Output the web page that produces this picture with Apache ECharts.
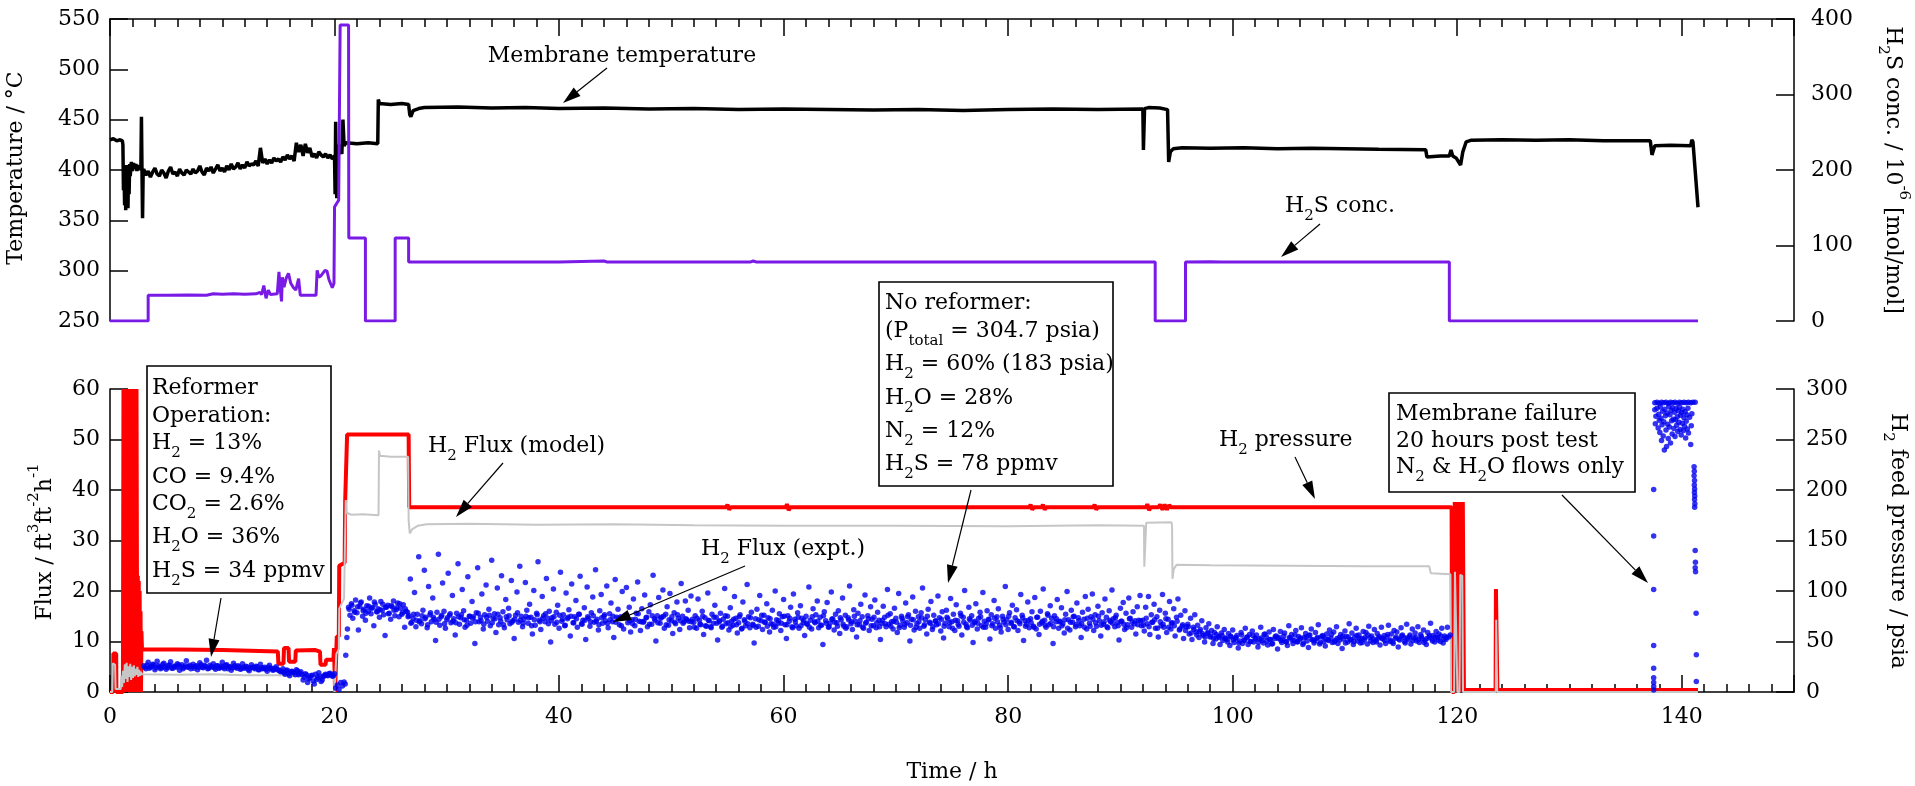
<!DOCTYPE html>
<html><head><meta charset="utf-8">
<script src="https://cdn.jsdelivr.net/npm/echarts@6/dist/echarts.min.js"></script>
<style>html,body{margin:0;padding:0;background:#fff}#c{width:1915px;height:786px}</style>
</head><body><div id="c"></div>
<script>
// ---------------- DATA ----------------
const xTicks = [0, 20, 40, 60, 80, 100, 120, 140];

// Membrane temperature (°C) [t(h), T]
const tempHead = [[0,430],[0.3,431],[0.6,429],[0.9,430],[1.1,429],[1.15,425],[1.2,380],[1.25,402],[1.3,365],[1.35,396],[1.4,360],[1.45,405],[1.5,372],[1.55,399],[1.6,362],[1.65,401],[1.7,376],[1.75,406],[1.8,394],[1.9,408],[2.0,399],[2.1,407],[2.2,401],[2.3,406],[2.4,399],[2.5,405],[2.6,400],[2.7,404],[2.75,401],[2.8,453],[2.85,399],[2.9,352],[2.95,396]];
// 3.0 h .. 20.0 h every 0.2 h
const tempNoisyStart = 3.0, tempNoisyStep = 0.2;
const tempNoisy = [401,395,399,393,398,402,396,394,400,397,392,399,403,396,398,394,401,397,395,400,398,
 396,401,397,399,404,398,395,402,399,403,397,401,405,399,402,398,404,400,406,401,
 403,407,401,405,402,408,404,406,405,409,404,422,407,411,406,410,407,412,409,411,
 408,413,410,415,411,414,409,427,418,425,
 414,426,417,422,413,416,412,418,415,413,
 416,412,415,411,414];
const tempTail = [[20.05,376],[20.1,448],[20.15,392],[20.2,372],[20.25,410],[20.35,425],[20.5,421],[20.65,416],[20.75,450],[20.85,424],[21.0,427],[22.0,426],[23.0,427],[23.85,426],[23.9,470],[24.0,466],[25.0,465],[26.0,466],[26.6,465],[26.7,455],[26.8,453],[27.0,459],[27.5,461],[28,462],[31,462.5],[34,461.5],[37,462],[40,461],[44,461.5],[48,460.5],[52,461],[56,460],[60,460.5],[64,460],[68,459.5],[72,460],[76,459],[80,460],[84,460.5],[88,460],[92.0,460.5],[92.05,420],[92.15,461],[92.5,462],[93.5,461.5],[94.2,460],[94.3,408],[94.45,418],[94.7,421],[95.5,422],[98,421.5],[101,422],[104,421],[107,421.5],[110,421],[113,420.5],[117.2,420],[117.3,413],[118.5,414],[119.3,414],[119.45,420],[119.6,414],[119.9,412],[120.3,405],[120.5,418],[120.8,428],[121.2,429.5],[124,430],[127,429.5],[130,430],[133,429],[137.2,429],[137.35,415],[137.6,424],[139,424.5],[140.8,424],[140.9,430],[141.0,428],[141.45,363]];

// H2S concentration (10^-6 mol/mol) [t, ppm]
const h2sConc = [[0,0],[3.4,0],[3.4,34],[5,34],[7,34.5],[8.6,34],[9.2,36],[10,35.5],[11,36],[12,35.5],[13.0,36],[13.35,38],[13.5,35],[13.7,47],[13.9,30],[14.1,41],[14.3,35],[14.9,36],[15.05,65],[15.15,45],[15.28,26],[15.35,58],[15.5,45],[15.7,57],[15.9,63],[16.1,50],[16.35,44],[16.55,41],[16.8,56],[16.95,34],[18.35,34],[18.45,67],[18.6,58],[18.8,60],[18.97,58],[19.15,67],[19.33,66],[19.5,55],[19.8,44],[19.95,50],[20.0,151],[20.2,156],[20.37,160],[20.5,392],[21.25,392],[21.27,110],[22.75,110],[22.75,0],[25.4,0],[25.4,110],[26.6,110],[26.6,78],[40,78],[44,79.5],[44.3,78],[57,78],[57.3,79.5],[57.6,78],[93.1,78],[93.1,0],[95.8,0],[95.8,78],[98,78.5],[99,78],[110,78],[119.3,78],[119.3,0],[141.45,0]];

// H2 feed pressure (psia) [t, p]
const h2Pressure = [[0,0],[0.28,0],[0.3,38],[0.55,38],[0.57,0],[1.15,0],[1.2,300],[1.24,0],[1.28,300],[1.32,15],[1.36,300],[1.4,0],[1.44,300],[1.48,20],[1.52,300],[1.56,0],[1.6,300],[1.64,10],[1.68,300],[1.72,0],[1.76,300],[1.8,125],[1.84,0],[1.88,125],[1.92,10],[1.96,300],[2.0,0],[2.04,300],[2.08,15],[2.12,300],[2.16,0],[2.2,300],[2.24,20],[2.28,300],[2.32,0],[2.36,300],[2.4,120],[2.44,0],[2.48,115],[2.52,5],[2.56,110],[2.6,0],[2.64,100],[2.68,10],[2.72,80],[2.76,0],[2.8,60],[2.85,42],[6,42],[10,41.5],[14.95,40],[15.0,28],[15.45,28],[15.5,43.5],[15.9,43.5],[15.95,30],[16.5,30],[16.55,41],[18.3,41.5],[18.35,40],[18.7,40],[18.75,27],[19.2,27],[19.25,32],[19.9,32],[19.95,43.5],[20.02,43.5],[20.05,0],[20.15,0],[20.2,55],[20.38,55],[20.42,125],[20.9,128],[20.95,190],[21.07,190],[21.12,255],[24,255],[26.6,255],[26.65,183],[54.9,183],[55.0,185.5],[55.15,180.5],[55.3,183],[60.2,183],[60.3,186],[60.45,180],[60.6,183],[81.9,183],[82.0,185.5],[82.15,180.5],[82.3,183],[83,183],[83.1,185.5],[83.25,180.5],[83.4,183],[87.6,183],[87.7,185.5],[87.85,180.5],[88.0,183],[92.3,183],[92.4,186],[92.55,180],[92.7,183],[93.4,183],[93.55,185.5],[93.75,180.5],[93.95,185.5],[94.15,180.5],[94.35,185],[94.5,183],[119.5,183],[119.55,0],[119.75,0],[119.78,188],[119.84,0],[119.9,188],[119.96,0],[120.02,188],[120.08,0],[120.14,188],[120.2,0],[120.26,188],[120.32,0],[120.38,188],[120.44,0],[120.5,188],[120.56,188],[120.6,2],[123.42,2],[123.45,102],[123.55,102],[123.58,2],[141.45,2]];

// H2 flux (model) ft3 ft-2 h-1 [t, flux]
const fluxModel = [[0,0],[0.2,0],[0.25,5.7],[0.45,5.4],[0.5,0.6],[0.95,0.6],[1.0,3.2],[1.08,1.0],[1.16,4.2],[1.24,1.8],[1.32,5.5],[1.4,2.6],[1.48,5.8],[1.56,2.0],[1.64,5.1],[1.72,3.0],[1.8,5.6],[1.88,2.4],[1.96,5.0],[2.04,2.8],[2.12,5.3],[2.2,3.1],[2.28,4.6],[2.36,3.4],[2.44,5.0],[2.52,3.0],[2.6,4.4],[2.68,3.2],[2.76,4.0],[2.84,3.5],[3.0,3.5],[6,3.4],[9,3.5],[12,3.3],[15,3.3],[17,3.1],[19,3.0],[19.95,3.0],[20.0,0],[20.12,0],[20.16,7.5],[20.38,8.5],[20.42,16.5],[20.85,18.5],[20.92,28],[21.0,38],[21.08,35.5],[21.5,35.1],[22.5,35.2],[23.92,35.0],[23.96,47.8],[24.05,46.8],[25,46.6],[26.55,46.6],[26.6,34],[26.7,31.4],[26.9,32.2],[27.4,32.9],[28.2,33.2],[32,33.3],[38,33.1],[45,33.2],[52,33.0],[60,32.9],[70,32.9],[80,32.8],[88,33.0],[92.1,32.9],[92.13,24.8],[92.28,24.8],[92.3,33.5],[94.55,33.6],[94.6,33.0],[94.64,22.4],[94.75,24.3],[95.0,25.2],[98,25.1],[105,25.0],[112,24.9],[117.5,24.9],[117.65,23.5],[119.4,23.3],[119.45,0],[119.72,0],[119.8,23.8],[119.95,24],[120.02,0],[120.2,0],[120.27,23.2],[120.45,23.0],[120.52,0],[123.44,0],[123.47,14.3],[123.53,14.3],[123.56,0],[141.45,0]];

// H2 flux (expt.) — reformer period, 3.0 h .. 20.0 h every 0.2 h
const exptEarlyStart = 3.0, exptEarlyStep = 0.2;
const exptEarly = [5.2,4.6,5.9,4.9,5.5,4.4,6.1,5.0,4.8,5.7,4.5,5.3,6.0,4.7,5.1,5.6,4.3,5.4,4.9,6.2,5.0,
 4.6,5.5,5.1,4.4,5.8,4.9,5.3,6.3,4.7,5.0,5.6,4.5,5.2,4.8,5.9,4.6,5.4,5.0,4.3,5.7,
 4.9,5.2,4.5,5.6,4.7,5.0,4.2,5.4,4.8,5.1,4.4,5.5,4.6,4.9,4.1,5.3,4.7,4.4,5.0,4.3,
 4.0,4.6,3.5,4.3,3.2,4.1,3.8,4.4,3.4,4.0,
 2.4,3.6,1.9,2.8,3.3,1.6,2.5,3.8,2.1,3.0,
 3.5,3.2,3.7,3.1,3.6];
// second reading channel, 3.1 h .. 19.9 h every 0.2 h
const exptEarly2Start = 3.1, exptEarly2Step = 0.2;
const exptEarly2 = [4.9,5.3,4.7,5.1,5.4,4.8,5.2,4.6,5.5,5.0,4.8,5.3,4.7,5.1,4.9,5.4,5.0,4.6,5.2,4.9,5.3,
 5.0,4.7,5.2,4.9,5.4,4.8,5.1,4.6,5.3,5.0,4.8,5.2,4.7,5.1,4.9,5.3,4.6,5.0,4.8,5.2,
 4.7,5.0,4.6,4.9,5.1,4.5,4.8,4.9,4.6,5.0,4.4,4.8,4.7,4.5,4.9,4.6,4.3,4.7,4.5,4.2,
 4.1,3.8,4.3,3.6,4.0,3.9,3.4,4.2,3.7,3.5,
 2.9,3.4,2.6,3.2,2.2,3.5,2.8,3.1,2.4,3.3,
 3.3,3.6,3.4,3.2];
const exptTransition = [[20.1,0.8],[20.25,1.4],[20.4,0.5],[20.55,1.9],[20.7,1.2],[20.85,2.0],[20.95,1.6],[21.0,7.3],[21.1,10.8],[21.15,12.5]];
// no-reformer period, from 21.25 h every 0.125 h
const exptStart = 21.25, exptStep = 0.125;
const exptSegA = [16.8,15.2,17.5,14.6,16.1,18.2,15.7,12.3,16.9,17.8,15.0,16.4,14.2,17.1,16.0,18.6,15.5,16.7,13.1,17.4,15.9,16.5,14.8,17.9,16.2,15.3,11.2,16.8,17.2,15.6,14.4,16.9,18.0,15.1,16.3,17.6,14.9,16.6,15.4,17.3,12.8,16.0,15.8];
const exptSegB = [15.1,22.4,13.8,14.6,19.7,12.9,15.4,26.8,14.1,13.5,
 16.2,24.1,14.8,12.7,20.9,15.3,13.9,18.6,14.4,10.2,
 15.8,27.3,13.2,14.9,21.6,16.0,12.6,14.3,23.5,15.2,
 13.7,19.1,14.5,11.3,15.6,25.4,13.4,14.7,20.3,16.1,
 12.8,14.2,22.8,15.0,13.6,17.9,14.9,9.6,15.7,24.6,
 13.9,14.8,19.4,12.5,15.3,21.2,14.0,16.4,13.1,26.1,
 14.6,15.5,11.8,20.6,13.3,14.7,23.0,15.9,12.7,18.3,
 14.3,16.6,13.5,22.1,14.1,10.6,15.2,19.8,13.8,24.9,
 15.0,12.9,14.4,21.7,16.2,13.6,17.4,14.8,11.5,20.1,
 13.2,15.6,25.8,14.2,12.4,18.9,15.1,13.9,22.5,14.6,
 16.0,9.9,14.7,20.4,13.4,15.8,17.2,12.6,23.7,14.0,
 15.3,13.1,19.6,14.5,16.3,11.1,21.4,13.7,14.9,18.1,
 12.8,15.4,22.9,13.5,14.2,16.7,10.4,20.8,14.6,13.0,
 15.7,18.8,13.8,24.2,14.4,12.3,16.1,19.3,13.6,15.0,
 14.1,21.0,12.7,15.5,17.6,13.9,10.8,22.3,14.8,16.4,
 13.3,14.9,19.9,12.5,15.2,20.7,13.7,16.8,11.9,14.3,
 18.4,13.1,15.6,21.8,14.0,12.2,16.5,13.8,19.2,14.7,
 12.9,15.9,17.3,13.4,23.1,14.5,10.1,15.1,18.7,13.6,
 14.8,20.2,12.6,15.4,16.9,13.2,19.5,14.1,11.6,15.7,
 13.5,17.8,14.6,12.4,21.5,15.0,13.9,18.0,14.3,16.2,
 12.7,19.0,14.4];
const exptSegC = [13.8,15.1,12.6,18.4,14.2,13.3,16.0,11.4,14.7,13.0,
 19.6,14.1,12.9,15.4,13.6,17.2,14.8,10.3,13.9,15.6,
 12.8,14.4,20.5,13.5,15.0,12.3,16.7,14.0,13.2,18.9,
 14.6,11.7,13.7,15.3,12.5,17.8,14.3,13.1,21.3,14.9,
 12.7,15.8,13.4,9.7,14.5,16.4,13.0,19.1,14.1,12.4,
 15.2,13.8,17.5,14.7,11.9,13.5,16.2,12.8,20.0,14.3,
 13.6,15.5,12.2,14.9,18.3,13.3,10.6,15.1,14.0,16.8,
 12.9,19.4,14.4,13.1,15.7,12.6,17.1,14.6,13.7,11.2,
 15.0,13.4,20.8,14.2,12.5,16.5,13.9,15.3,18.0,12.7,
 14.8,13.2,9.4,15.9,14.1,17.7,12.8,13.6,19.8,14.5,
 12.3,15.4,13.7,16.1,11.6,14.3,18.6,13.0,15.2,12.9,
 14.7,21.0,13.5,12.4,16.3,14.0,10.9,15.6,13.3,17.4,
 14.9,12.6,19.2,13.8,15.1,12.2,16.9,14.4,13.1,18.2,
 12.7,15.8,14.2,10.4,13.6,17.0,14.8,12.9,20.3,13.4,
 15.5,13.9,12.5,16.6,14.6,11.8,19.5,13.2,15.0,14.1,
 12.8,17.6,13.7,15.3,10.1,14.4,18.8,12.3,16.0,13.5,
 14.9,12.6,15.7,20.6,13.0,14.3,11.5,16.4,13.8,17.9,
 12.4,15.2,14.0,13.3,19.0,14.7,12.1,15.9,10.7,13.6,
 16.2,14.5,12.9,18.5,13.9,15.4,12.2,17.3,14.1,13.0,
 15.6,11.3,14.8,20.1,13.4,12.7,16.8,14.2,15.1,9.8,
 13.7,17.5,12.5,14.6,15.8,13.1,19.7,14.0,12.8,16.1,
 14.4,10.5,15.3,13.5,18.1,12.6,14.9,16.5,13.2,11.9,
 15.0,13.8,20.9,14.3,12.4,15.7,13.6,17.2,12.9,14.7,
 16.3,12.2,13.9,19.3,15.2,10.2,14.1,13.4,17.8,12.7,
 14.5,15.9,13.0,18.7,12.5,14.8,11.4,16.0,13.7,20.4,
 14.2,12.8,15.5,13.3,17.1,14.6,9.6,15.1,13.9,18.3,
 12.6,14.0,16.7,13.5,11.7,15.4,19.9,14.3,12.3,16.2,
 13.8,15.0,12.9,17.6,14.7,13.1,10.8,15.8,14.4,18.9,
 12.5,16.4,13.6,14.9,19.4,12.2,15.3,13.0,17.0,14.1,
 11.1,15.7,13.4,18.4,14.8,12.7,16.1,13.9,20.2,14.5,
 12.9,15.2,13.7,10.3,16.6,14.0,17.7,12.4,15.6,13.3,
 18.6,14.6,12.8,15.9,13.5,11.5,16.9,14.2,19.1,13.1];
const exptSegD = [14.2,12.1,16.8,13.5,18.9,11.4,15.3,13.8,17.4,12.6,14.9,10.9,16.2,13.1,19.3,12.8,
 15.6,11.8,14.4,17.9,12.5,13.7,16.5,11.1,14.8,18.4,12.3,15.2,13.0,10.6,16.1,12.9,
 13.4,11.5,14.6,10.4,12.8,15.3,11.9,13.2,10.8,12.4,14.1,11.2,9.9,12.7,11.6,13.5,
 10.9,12.2,9.6,11.8,10.5,12.9,11.0,9.4,11.7,10.2,12.4,10.7];
const exptSegE = [10.4,11.6,9.2,10.9,12.3,9.8,10.6,11.2,8.7,10.1,
 11.8,9.6,10.3,12.6,10.8,9.4,11.4,10.0,12.1,9.9,
 10.7,11.3,8.9,10.5,12.8,10.2,9.7,11.5,10.9,9.3,
 11.9,10.4,9.5,12.4,10.6,11.1,8.5,10.8,12.0,9.8,
 10.3,11.7,10.0,9.2,13.1,10.7,11.4,9.6,10.2,12.2,
 9.9,11.0,10.5,12.7,9.4,10.8,11.6,10.1,8.8,11.3,
 12.5,10.3,9.7,11.8,10.6,13.3,9.5,10.9,11.2,10.0,
 9.1,11.5,10.4,12.3,10.7,9.8,11.9,10.2,12.9,9.6,
 10.8,11.4,8.6,10.5,12.1,11.0,9.9,13.5,10.3,11.7,
 9.4,10.9,12.6,10.1,11.3,9.7,10.6,12.0,10.4,11.8,
 9.5,13.0,10.8,11.1,9.8,12.4,10.2,11.6,10.7,9.3,
 12.8,10.5,11.2,9.6,10.9,13.2,10.0,11.5,9.9,12.2,
 10.6,11.9,8.9,10.3,12.7,11.3,10.8,9.7,13.4,10.4,
 11.0,9.5,12.5,10.7,11.7,10.1,12.9,9.8,11.4,10.6,
 12.3,10.2,9.4,11.8,10.9,13.6,10.5,11.2,9.9,12.0,
 10.8,11.5,10.0,12.6,9.7,11.1,10.4,12.8,10.9,11.3];
// second reading channel, from 21.3 h every 0.25 h
const exptCoreStart = 21.3, exptCoreStep = 0.25;
const exptCoreA = [16.4,17.2,15.8,16.9,17.6,16.1,15.6,17.0,16.6,17.8,15.9,16.3,17.4,16.8,15.5,17.1,16.2,16.7,17.5,15.7,16.5];
const exptCoreB = [14.9,13.6,15.4,14.2,13.9,15.1,14.5,13.3,15.7,14.8,
 13.8,14.4,15.2,13.5,14.7,15.5,14.0,13.7,14.9,15.3,
 14.3,13.2,15.0,14.6,13.9,15.6,14.1,13.4,14.8,15.2,
 13.7,14.5,15.4,14.0,13.3,14.9,15.1,13.8,14.4,15.7,
 14.2,13.6,15.0,14.7,13.1,14.3,15.3,13.9,14.6,15.5,
 13.5,14.1,14.9,13.8,15.2,14.4,13.2,14.8,15.0,13.7,
 14.5,15.4,13.4,14.2,14.9,13.9,15.1,14.0,13.3,14.7,
 15.3,13.6,14.3,15.0,13.8,14.6,13.1,14.9,15.2,14.1,
 13.5,14.4,15.5,13.9,14.0,14.8,13.4,15.1,14.2,13.7,
 14.6,15.0,13.3,14.3,14.9,13.8,15.3,14.1,13.6,14.5,
 14.0];
const exptCoreC = [13.9,12.8,14.6,13.4,15.0,13.1,14.2,12.7,14.8,13.6,
 14.1,13.0,15.1,13.7,12.9,14.4,13.3,14.9,12.6,14.0,
 13.5,14.7,13.2,12.8,14.3,15.2,13.8,13.0,14.5,13.4,
 12.9,14.1,13.6,15.0,13.3,14.6,12.7,13.9,14.8,13.1,
 14.2,13.5,12.8,14.9,13.7,14.0,13.2,15.1,13.6,12.9,
 14.4,13.8,13.0,14.7,13.4,12.6,14.3,13.9,15.0,13.3,
 14.1,12.8,13.6,14.5,13.1,14.8,13.7,12.9,14.2,13.5,
 15.2,13.0,14.0,13.8,12.7,14.6,13.4,14.9,13.2,14.3,
 12.8,13.9,14.7,13.3,15.0,13.6,12.9,14.1,13.5,14.4,
 13.0,14.8,13.7,12.6,14.2,13.4,15.1,13.8,12.9,14.5,
 13.2,14.0,13.6,14.9,12.8,13.5,14.3,13.1,14.6,13.9,
 12.7,14.4,13.3,15.0,13.8,12.9,14.1,13.5,14.7,13.0,
 14.2,13.7,12.8,14.8,13.4,14.0,13.2,15.2,13.6,12.9,
 14.5,13.9,13.1,14.3,12.6,13.8,14.9,13.3,14.1,13.5,
 12.8,14.6,13.0,14.4,13.7,15.0,13.2,13.9,12.9,14.2,
 13.6,14.7,13.1,14.0,13.4,12.7,14.5,13.8,14.1,13.3];
const exptCoreD = [14.1,13.2,14.6,12.9,13.8,14.3,12.6,13.9,13.4,14.5,
 12.8,13.6,13.1,14.0,12.5,13.3,12.2,12.9,11.7,12.4,
 11.3,12.0,11.6,10.9,11.8,11.1,10.6,11.4,10.8,11.2];
const exptCoreE = [10.6,9.9,11.1,10.3,10.8,9.7,11.3,10.2,10.9,10.0,
 11.2,10.5,9.8,10.7,11.4,10.1,10.4,9.6,11.0,10.6,
 10.2,11.1,9.9,10.8,10.3,11.3,10.0,10.7,9.7,10.9,
 11.2,10.4,10.1,10.8,9.8,11.0,10.5,10.2,11.4,9.9,
 10.6,10.3,11.1,9.7,10.9,10.4,10.0,11.2,10.6,9.8,
 10.8,11.3,10.1,10.5,9.9,11.0,10.7,10.2,11.4,10.3,
 9.6,10.9,10.5,11.1,10.0,10.7,11.3,10.2,10.8,10.4,
 11.0,9.8,10.6,11.2,10.1,10.9,10.3,11.1,10.5,10.8];
// post-test (membrane failure) readings [t, flux]
const exptPostTest = [[137.5,0.4],[137.5,1.1],[137.5,1.9],[137.5,2.8],[137.5,4.7],[137.5,9.2],[137.5,20.3],[137.5,30.9],[137.5,40.1],
 [137.6,57.3],[137.8,57.4],[138.0,57.2],[138.2,57.4],[138.4,57.3],[138.6,57.4],[138.8,57.2],[139.0,57.4],[139.2,57.3],[139.4,57.4],[139.6,57.2],[139.8,57.4],[140.0,57.3],[140.2,57.4],[140.4,57.3],[140.6,57.4],[140.8,57.3],[141.0,57.4],[141.2,57.4],
 [137.6,55.9],[137.7,54.6],[137.65,53.1],[137.8,56.2],[137.9,52.3],[137.95,55.0],[138.0,53.8],[138.05,51.4],[138.1,56.5],[138.15,54.2],[138.2,49.8],[138.25,52.9],[138.3,55.6],[138.35,50.7],[138.4,53.5],[138.45,47.9],[138.5,56.0],[138.55,54.7],[138.6,51.9],[138.65,48.6],[138.7,55.2],[138.75,53.0],[138.8,50.2],[138.85,56.6],[138.9,52.5],[138.95,54.9],[139.0,49.3],[139.05,55.8],[139.1,53.7],[139.15,51.1],[139.2,56.3],[139.25,54.0],[139.3,52.2],[139.35,55.4],[139.4,50.6],[139.45,53.9],[139.5,56.1],[139.55,52.8],[139.6,54.5],[139.65,51.6],[139.7,55.7],[139.75,53.4],[139.8,56.4],[139.85,52.0],[139.9,54.8],[139.95,50.9],[140.0,55.3],[140.05,53.2],[140.1,56.0],[140.15,51.8],[140.2,54.3],[140.25,52.6],[140.3,55.5],[140.35,50.3],[140.4,53.6],[140.45,54.9],[140.5,52.1],[140.55,56.2],[140.6,51.3],[140.7,54.4],[140.8,49.0],[140.85,52.7],[140.9,55.1],
 [141.1,44.6],[141.12,43.7],[141.1,42.8],[141.14,41.9],[141.12,41.0],[141.15,40.2],[141.13,39.5],[141.16,38.8],[141.14,38.1],[141.17,37.3],[141.15,36.6],[141.2,28.0],[141.22,25.7],[141.2,24.6],[141.23,23.8],[141.28,15.6],[141.3,7.4],[141.3,2.1]];

// ---------------- BUILD SERIES DATA ----------------
function sampled(values, start, step, out) {
  values.forEach((v, i) => out.push([+(start + i * step).toFixed(3), v]));
}
const tempData = tempHead.slice();
sampled(tempNoisy, tempNoisyStart, tempNoisyStep, tempData);
tempTail.forEach(p => tempData.push(p));

const exptData = [];
sampled(exptEarly, exptEarlyStart, exptEarlyStep, exptData);
sampled(exptEarly2, exptEarly2Start, exptEarly2Step, exptData);
exptTransition.forEach(p => exptData.push(p));
sampled([].concat(exptSegA, exptSegB, exptSegC, exptSegD, exptSegE), exptStart, exptStep, exptData);
sampled([].concat(exptCoreA, exptCoreB, exptCoreC, exptCoreD, exptCoreE), exptCoreStart, exptCoreStep, exptData);
exptPostTest.forEach(p => exptData.push(p));

// ---------------- CHART ----------------
const FONT = 'DejaVu Serif';
const BLACK = '#000';
const chart = echarts.init(document.getElementById('c'), null, {renderer: 'canvas'});

function xAxisFor(grid, pos, showLabel) {
  return {
    type: 'value', gridIndex: grid, position: pos, min: 0, max: 150, interval: 20,
    axisLine: {show: true, onZero: false, lineStyle: {color: BLACK, width: 1.5}},
    axisTick: {show: true, inside: true, length: 17, lineStyle: {color: BLACK, width: 1.5}},
    minorTick: {show: true, splitNumber: 10, length: 8, lineStyle: {color: BLACK, width: 1.5}},
    splitLine: {show: false}, minorSplitLine: {show: false},
    axisLabel: {show: showLabel, margin: 14, fontFamily: FONT, fontSize: 22, color: BLACK, showMaxLabel: false,
      formatter: v => (xTicks.indexOf(v) >= 0 ? String(v) : '')}
  };
}
function yAxisFor(grid, pos, min, max, interval, margin) {
  return {
    type: 'value', gridIndex: grid, position: pos, min: min, max: max, interval: interval,
    axisLine: {show: true, onZero: false, lineStyle: {color: BLACK, width: 1.5}},
    axisTick: {show: true, inside: true, length: 18, lineStyle: {color: BLACK, width: 1.5}},
    splitLine: {show: false},
    axisLabel: {margin: margin, fontFamily: FONT, fontSize: 22, color: BLACK}
  };
}

const rich = {
  n: {fontFamily: FONT, fontSize: 22, lineHeight: 36, color: BLACK},
  s: {fontFamily: FONT, fontSize: 15, lineHeight: 16, verticalAlign: 'bottom', color: BLACK},
  p: {fontFamily: FONT, fontSize: 15, lineHeight: 16, verticalAlign: 'top', color: BLACK}
};
function txt(x, y, text, align, rotation) {
  return {type: 'text', x: x, y: y, rotation: rotation || 0, z: 30, silent: true,
    style: {text: text, rich: rich, align: align || 'left', verticalAlign: 'middle', fill: BLACK,
      fontFamily: FONT, fontSize: 22}};
}
function box(x1, y1, x2, y2) {
  return {type: 'rect', z: 25, silent: true, shape: {x: x1, y: y1, width: x2 - x1, height: y2 - y1},
    style: {fill: '#fff', stroke: BLACK, lineWidth: 1.6}};
}
function arrow(x1, y1, x2, y2) {
  const dx = x2 - x1, dy = y2 - y1, L = Math.hypot(dx, dy), ux = dx / L, uy = dy / L;
  const hl = 18, hw = 5.5, bx = x2 - ux * hl, by = y2 - uy * hl;
  return [
    {type: 'line', z: 30, silent: true, shape: {x1: x1, y1: y1, x2: bx, y2: by}, style: {stroke: BLACK, lineWidth: 1.2}},
    {type: 'polygon', z: 30, silent: true, shape: {points: [[x2, y2], [bx - uy * hw, by + ux * hw], [bx + uy * hw, by - ux * hw]]}, style: {fill: BLACK}}
  ];
}

const graphics = [
  // axis titles
  txt(16, 168, '{n|Temperature / °C}', 'center', Math.PI / 2),
  txt(45, 542, '{n|Flux / ft}{p|3}{n|ft}{p|-2}{n|h}{p|-1}', 'center', Math.PI / 2),
  txt(1893, 170, '{n|H}{s|2}{n|S conc. / 10}{p|-6}{n| [mol/mol]}', 'center', -Math.PI / 2),
  txt(1898, 541, '{n|H}{s|2}{n| feed pressure / psia}', 'center', -Math.PI / 2),
  txt(952, 772, '{n|Time / h}', 'center'),
  // top panel annotations
  txt(622, 56, '{n|Membrane temperature}', 'center'),
  ...arrow(607, 68, 563, 103),
  txt(1340, 206, '{n|H}{s|2}{n|S conc.}', 'center'),
  ...arrow(1320, 224, 1281, 257),
  // reformer box
  box(147, 366, 331, 593),
  txt(152, 388, '{n|Reformer}'),
  txt(152, 416, '{n|Operation:}'),
  txt(152, 443, '{n|H}{s|2}{n| = 13%}'),
  txt(152, 477, '{n|CO = 9.4%}'),
  txt(152, 504, '{n|CO}{s|2}{n| = 2.6%}'),
  txt(152, 537, '{n|H}{s|2}{n|O = 36%}'),
  txt(152, 571, '{n|H}{s|2}{n|S = 34 ppmv}'),
  ...arrow(221, 598, 211, 657),
  // flux labels
  txt(428, 446, '{n|H}{s|2}{n| Flux (model)}'),
  ...arrow(503, 463, 456, 517),
  txt(701, 549, '{n|H}{s|2}{n| Flux (expt.)}'),
  ...arrow(745, 566, 613, 622),
  // no reformer box
  box(879, 282, 1113, 486),
  txt(885, 303, '{n|No reformer:}'),
  txt(885, 331, '{n|(P}{s|total}{n| = 304.7 psia)}'),
  txt(885, 364, '{n|H}{s|2}{n| = 60% (183 psia)}'),
  txt(885, 398, '{n|H}{s|2}{n|O = 28%}'),
  txt(885, 431, '{n|N}{s|2}{n| = 12%}'),
  txt(885, 464, '{n|H}{s|2}{n|S = 78 ppmv}'),
  ...arrow(971, 490, 948, 583),
  // pressure label
  txt(1219, 440, '{n|H}{s|2}{n| pressure}'),
  ...arrow(1295, 457, 1315, 499),
  // membrane failure box
  box(1389, 393, 1635, 492),
  txt(1396, 414, '{n|Membrane failure}'),
  txt(1396, 441, '{n|20 hours post test}'),
  txt(1396, 467, '{n|N}{s|2}{n| & H}{s|2}{n|O flows only}'),
  ...arrow(1562, 495, 1648, 583)
];

chart.setOption({
  animation: false,
  backgroundColor: '#fff',
  grid: [
    {left: 110, top: 19, width: 1684, height: 302, containLabel: false},
    {left: 110, top: 389, width: 1684, height: 303, containLabel: false}
  ],
  xAxis: [xAxisFor(0, 'top', false), xAxisFor(1, 'bottom', true)],
  yAxis: [
    yAxisFor(0, 'left', 250, 550, 50, 10),
    yAxisFor(0, 'right', 0, 400, 100, 17),
    yAxisFor(1, 'left', 0, 60, 10, 10),
    yAxisFor(1, 'right', 0, 300, 50, 12)
  ],
  series: [
    {name: 'Membrane temperature', type: 'line', xAxisIndex: 0, yAxisIndex: 0, data: tempData, showSymbol: false, silent: true,
      lineStyle: {color: '#000', width: 3.5}, z: 2},
    {name: 'H2S conc.', type: 'line', xAxisIndex: 0, yAxisIndex: 1, data: h2sConc, showSymbol: false, silent: true,
      lineStyle: {color: '#7a1ae6', width: 3}, z: 3},
    {name: 'H2 pressure', type: 'line', xAxisIndex: 1, yAxisIndex: 3, data: h2Pressure, showSymbol: false, silent: true,
      lineStyle: {color: '#ff0000', width: 4}, z: 2},
    {name: 'H2 Flux (model)', type: 'line', xAxisIndex: 1, yAxisIndex: 2, data: fluxModel, showSymbol: false, silent: true,
      lineStyle: {color: '#c6c6c6', width: 2}, z: 3},
    {name: 'H2 Flux (expt.)', type: 'scatter', xAxisIndex: 1, yAxisIndex: 2, data: exptData, symbolSize: 5.5, silent: true,
      itemStyle: {color: '#0000ee'}, z: 4}
  ],
  graphic: graphics
});
</script>
</body></html>
